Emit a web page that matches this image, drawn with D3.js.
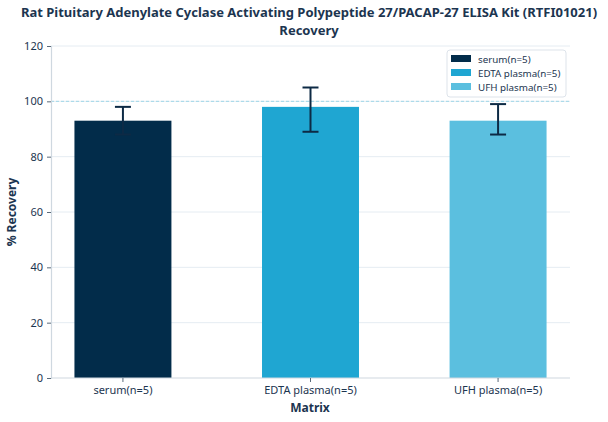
<!DOCTYPE html>
<html><head><meta charset="utf-8">
<script src="https://cdn.jsdelivr.net/npm/d3@7"></script>
<style>body{margin:0;background:#fff;}svg{display:block;font-family:"Noto Sans","Open Sans",sans-serif;}</style>
</head><body>
<svg id="c" width="608" height="422"></svg>
<script>
const categories = ["serum(n=5)", "EDTA plasma(n=5)", "UFH plasma(n=5)"];
const recovery = [93, 98, 93];
const errLow = [88, 89, 88];
const errHigh = [98, 105, 99];
const colors = ["#022c4a", "#1fa6d2", "#5bbfdf"];
const yTicks = [0, 20, 40, 60, 80, 100, 120];
const refLine = 100;

const svg = d3.select("#c");
const m = {l: 51, r: 38, t: 46, b: 44};
const W = 608, H = 422;
const x = d3.scaleBand().domain(categories).range([m.l, W - m.r]).paddingInner(0.483).paddingOuter(0.125);
const y = d3.scaleLinear().domain([0, 120]).range([H - m.b, m.t]);
const txt = "#1c3550";

// grid
svg.append("g").selectAll("line").data(yTicks.filter(d => d > 0)).join("line")
  .attr("x1", m.l).attr("x2", W - m.r).attr("y1", d => y(d)).attr("y2", d => y(d))
  .attr("stroke", "#e5ecf2").attr("stroke-width", 1);

// bars
svg.append("g").selectAll("rect").data(categories).join("rect")
  .attr("x", d => x(d)).attr("width", x.bandwidth())
  .attr("y", (d, i) => y(recovery[i])).attr("height", (d, i) => y(0) - y(recovery[i]))
  .attr("fill", (d, i) => colors[i]);

// reference line
svg.append("line").attr("x1", m.l).attr("x2", W - m.r).attr("y1", y(refLine)).attr("y2", y(refLine))
  .attr("stroke", "#9fd6e8").attr("stroke-width", 1).attr("stroke-dasharray", "3,2");

// error bars
const eg = svg.append("g").attr("stroke", "#0d2a45").attr("stroke-width", 2);
categories.forEach((c, i) => {
  const cx = x(c) + x.bandwidth() / 2;
  eg.append("line").attr("x1", cx).attr("x2", cx).attr("y1", y(errLow[i])).attr("y2", y(errHigh[i]));
  eg.append("line").attr("x1", cx - 8).attr("x2", cx + 8).attr("y1", y(errLow[i])).attr("y2", y(errLow[i]));
  eg.append("line").attr("x1", cx - 8).attr("x2", cx + 8).attr("y1", y(errHigh[i])).attr("y2", y(errHigh[i]));
});

// axes
const ya = svg.append("g").attr("transform", `translate(${m.l},0)`)
  .call(d3.axisLeft(y).tickValues(yTicks).tickSize(4).tickPadding(4));
const xa = svg.append("g").attr("transform", `translate(0,${H - m.b})`)
  .call(d3.axisBottom(x).tickSize(4).tickPadding(4));
[ya, xa].forEach(a => {
  a.select(".domain").attr("stroke", "#cfd8e0").attr("stroke-width", 1.2);
  a.selectAll(".tick line").attr("stroke", "#5a6a7a");
  a.selectAll(".tick text").attr("fill", txt).attr("font-size", 11).attr("font-family", "Noto Sans, sans-serif");
});
xa.select(".domain").attr("d", `M${m.l},0H${W - m.r}`);

// titles
svg.append("text").attr("x", 309).attr("y", 16.5).attr("text-anchor", "middle")
  .attr("font-size", 13).attr("font-weight", "bold").attr("fill", txt)
  .text("Rat Pituitary Adenylate Cyclase Activating Polypeptide 27/PACAP-27 ELISA Kit (RTFI01021)");
svg.append("text").attr("x", 309).attr("y", 34.5).attr("text-anchor", "middle")
  .attr("font-size", 13).attr("font-weight", "bold").attr("fill", txt).text("Recovery");
svg.append("text").attr("x", 310).attr("y", 412).attr("text-anchor", "middle")
  .attr("font-size", 12).attr("font-weight", "bold").attr("fill", txt).text("Matrix");
svg.append("text").attr("transform", `translate(16,${(m.t + H - m.b) / 2}) rotate(-90)`).attr("text-anchor", "middle")
  .attr("font-size", 12).attr("font-weight", "bold").attr("fill", txt).text("% Recovery");

// legend
const lg = svg.append("g").attr("transform", "translate(447,50)");
lg.append("rect").attr("width", 119).attr("height", 47).attr("rx", 3)
  .attr("fill", "#fff").attr("fill-opacity", 0.9).attr("stroke", "#dde3ea");
categories.forEach((c, i) => {
  const g = lg.append("g").attr("transform", `translate(4,${9 + i * 14})`);
  g.append("rect").attr("y", -4).attr("width", 20).attr("height", 7).attr("fill", colors[i]);
  g.append("text").attr("x", 27).attr("y", 3.5).attr("font-size", 9.8).attr("fill", txt).text(c);
});
</script>
</body></html>
